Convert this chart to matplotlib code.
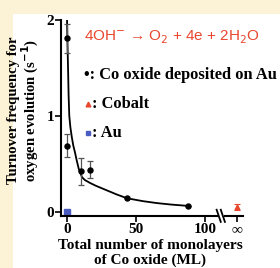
import matplotlib
matplotlib.use("Agg")
import matplotlib.pyplot as plt
from matplotlib.patches import Rectangle
import matplotlib.transforms as mtransforms

# ---- data ----
co_x = [0, 0, 10, 17, 43.5, 88]
co_y = [1.81, 0.69, 0.42, 0.44, 0.14, 0.06]
co_err = [0.15, 0.12, 0.14, 0.085, 0.0, 0.0]

fit_x = [0, 0.4, 0.8, 1.2, 1.7, 2.5, 3.5, 4.6, 5.8, 7.0, 8.5, 10.9, 13, 16.7, 21, 26, 31, 36, 43.5, 55, 65, 75, 88]
fit_y = [2.05, 1.75, 1.5, 1.22, 1.0, 0.88, 0.78, 0.69, 0.62, 0.54, 0.45, 0.36, 0.33, 0.30, 0.27, 0.24, 0.21, 0.18, 0.14, 0.11, 0.09, 0.075, 0.06]

cobalt_y = [0.05]
cobalt_err = [0.035]
au_x = [0]
au_y = [0]

xtick_vals = [0, 50, 100]
xtick_labels = ["0", "50", "100", "∞"]
ytick_vals = [0, 1, 2]
ytick_labels = ["0", "1", "2"]

INF_POS = 123  # layout position used for the "∞" column

CREAM = "#fcf2d6"
RED = "#e8472e"
BLUE = "#4a5cc0"

serif = ["Liberation Serif", "DejaVu Serif"]

fig = plt.figure(figsize=(2.8, 2.68), dpi=100)
fig.patch.set_facecolor(CREAM)
fig.patches.append(Rectangle((13 / 280, 0), 1 - 13 / 280, 1 - 14 / 268,
                             transform=fig.transFigure, facecolor="white",
                             edgecolor="none", zorder=-10))

ax = fig.add_axes([61 / 280, 52 / 268, 182 / 280, 196 / 268])
ax.set_facecolor("none")
ax.set_xlim(-4.3, 127.5)
ax.set_ylim(-0.045, 2.0)

# fit curve
ax.plot(fit_x, fit_y, color="black", lw=1.3, zorder=3)
# Co oxide points
ax.errorbar(co_x, co_y, yerr=co_err, fmt="o", color="black", ms=3.6,
            ecolor="#555555", elinewidth=0.9, capsize=2.5, capthick=0.9, zorder=4)
# Cobalt
ax.errorbar([INF_POS], cobalt_y, yerr=cobalt_err, fmt="^", color=RED, ms=3.5,
            ecolor=RED, elinewidth=0.8, capsize=2, capthick=0.8, zorder=4, clip_on=False)
# Au
ax.plot(au_x, au_y, "s", color=BLUE, ms=4, zorder=5, clip_on=False)

# spines
for s in ["top", "right", "bottom"]:
    ax.spines[s].set_visible(False)
ax.spines["left"].set_linewidth(1.5)

trans = mtransforms.blended_transform_factory(ax.transData, ax.transAxes)
ax.plot([-4.3, 108.5], [0, 0], transform=trans, color="black", lw=1.5, clip_on=False, zorder=6)
ax.plot([114.5, 127.5], [0, 0], transform=trans, color="black", lw=1.5, clip_on=False, zorder=6)
for x0 in [108.4, 111.4]:
    ax.plot([x0, x0 + 3.0], [0.032, -0.03], transform=trans, color="black", lw=1.3, clip_on=False, zorder=6)

ax.set_xticks(xtick_vals + [INF_POS])
ax.set_xticklabels(xtick_labels, family=serif, fontweight="bold", fontsize=11)
ax.set_yticks(ytick_vals)
ax.set_yticklabels(ytick_labels, family=serif, fontweight="bold", fontsize=11)
ax.tick_params(axis="both", direction="out", length=4, width=1.2, pad=1)

ax.set_xlabel("Total number of monolayers\nof Co oxide (ML)", family=serif,
              fontweight="bold", fontsize=11, linespacing=1.15)
ax.xaxis.set_label_coords(0.49, -0.115, transform=ax.transAxes)
ax.set_ylabel("Turnover frequency for\noxygen evolution (s$^{\\mathbf{-1}}$)", family=serif,
              fontweight="bold", fontsize=10.6, linespacing=1.0)
ax.yaxis.set_label_coords(-0.11, 0.54, transform=ax.transAxes)

# equation
fig.text(84 / 280, 1 - 37 / 268, "4OH$^{\\mathsf{-}}$ → O$_2$ + 4e + 2H$_2$O",
         family=["Liberation Sans", "DejaVu Sans"], fontsize=11, color=RED,
         va="center", ha="left")

# legend-like annotations
fig.text(84 / 280, 1 - 75 / 268, "•: Co oxide deposited on Au", family=serif,
         fontweight="bold", fontsize=11.8, va="center", ha="left")
ax.plot([88 / 280], [1 - 104 / 268], "^", color=RED, ms=3.4, transform=fig.transFigure, clip_on=False)
fig.text(92 / 280, 1 - 104 / 268, ": Cobalt", family=serif,
         fontweight="bold", fontsize=11.8, va="center", ha="left")
ax.plot([88 / 280], [1 - 133 / 268], "s", color=BLUE, ms=3.4, transform=fig.transFigure, clip_on=False)
fig.text(92 / 280, 1 - 133 / 268, ": Au", family=serif,
         fontweight="bold", fontsize=11.8, va="center", ha="left")

fig.savefig("out.png", dpi=100, facecolor=fig.get_facecolor())
